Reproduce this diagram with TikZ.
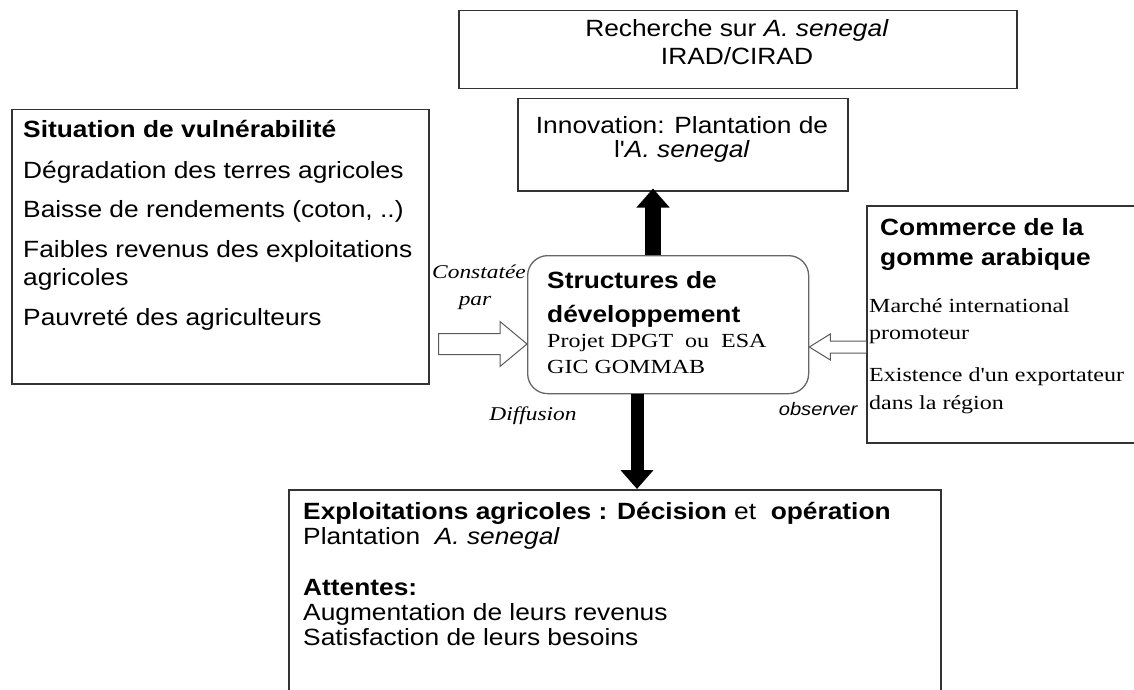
\documentclass[tikz,border=0pt]{standalone}
\usepackage{fontspec}
\setmainfont{Liberation Sans}
\newfontfamily\sansx[FakeStretch=1.12]{Liberation Sans}
\newfontfamily\serifx[FakeStretch=1.2]{Liberation Serif}
\usetikzlibrary{arrows.meta,calc}

\begin{document}
\begin{tikzpicture}[x=1pt,y=-1pt,
  box/.style={draw=black!80, line width=1.5pt, inner sep=0pt, anchor=north west},
  roundbox/.style={draw=black!60, line width=1.3pt, rounded corners=20pt, inner sep=0pt, anchor=north west},
  sans/.style={font=\sansx\fontsize{23.5}{27}\selectfont, inner sep=0pt},
  sansb/.style={font=\sansx\bfseries\fontsize{23.5}{27}\selectfont, inner sep=0pt},
  seri/.style={font=\serifx\fontsize{20}{24}\selectfont, inner sep=0pt},
  lab/.style={font=\serifx\itshape\fontsize{19.5}{23}\selectfont, inner sep=0pt, anchor=base},
  sanslab/.style={font=\sansx\itshape\fontsize{18}{21}\selectfont, inner sep=0pt, anchor=base},
  hollow/.style={draw=black!65, line width=1pt, fill=white, line join=miter},
  solidarrow/.style={draw=black, line width=#1}
]
\useasboundingbox (0,0) rectangle (1134,690);
\clip (0,0) rectangle (1134,690);

% frames
\node[box, minimum width=558pt, minimum height=78pt] (rech) at (458,10) {};
\node[box, minimum width=330pt, minimum height=92pt] (innov) at (517,98) {};
\node[box, minimum width=417pt, minimum height=274pt] (vuln) at (11,109) {};
\node[roundbox, minimum width=281pt, minimum height=138pt] (struct) at (527,255) {};
\node[box, minimum width=290pt, minimum height=237pt] (comm) at (866,205) {};
\node[box, minimum width=652pt, minimum height=240pt] (expl) at (288,489) {};

% research box
\node[sans, anchor=base] (rech1) at (737,37) {Recherche sur \textit{A. senegal}};
\node[sans, anchor=base] (rech2) at (737,65) {IRAD/CIRAD};

% innovation box
\node[sans, anchor=base] (inn1) at (682,133) {Innovation: Plantation de};
\node[sans, anchor=base] (inn2) at (682,157) {l'\textit{A. senegal}};

% vulnerability box
\node[sansb, anchor=base west] (v0) at (23,137) {Situation de vulnérabilité};
\node[sans, anchor=base west] (v1) at (23,178) {Dégradation des terres agricoles};
\node[sans, anchor=base west] (v2) at (23,217) {Baisse de rendements (coton, ..)};
\node[sans, anchor=base west] (v3) at (23,257) {Faibles revenus des exploitations};
\node[sans, anchor=base west] (v4) at (23,285) {agricoles};
\node[sans, anchor=base west] (v5) at (23,325) {Pauvreté des agriculteurs};

% development structures
\node[sansb, anchor=base west] (s1) at (547,288) {Structures de};
\node[sansb, anchor=base west] (s2) at (547,322) {développement};
\node[seri, anchor=base west] (s3) at (547,347) {Projet DPGT\ \ ou\ \ ESA};
\node[seri, anchor=base west] (s4) at (547,373) {GIC GOMMAB};

% gum arabic trade
\node[sansb, anchor=base west] (c1) at (880,235) {Commerce de la};
\node[sansb, anchor=base west] (c2) at (880,265) {gomme arabique};
\node[seri, anchor=base west] (c3) at (869,312) {Marché international};
\node[seri, anchor=base west] (c4) at (869,339) {promoteur};
\node[seri, anchor=base west] (c5) at (869,381) {Existence d'un exportateur};
\node[seri, anchor=base west] (c6) at (869,409) {dans la région};

% farms
\node[sans, anchor=base west] (e1) at (303,519) {\textbf{Exploitations agricoles : Décision} et\ \ \textbf{opération}};
\node[sans, anchor=base west] (e2) at (303,544) {Plantation\ \ \textit{A. senegal}};
\node[sansb, anchor=base west] (e3) at (303,595) {Attentes:};
\node[sans, anchor=base west] (e4) at (303,620) {Augmentation de leurs revenus};
\node[sans, anchor=base west] (e5) at (303,645) {Satisfaction de leurs besoins};

% connector labels
\node[lab] (l1) at (479,278) {Constatée};
\node[lab] (l2) at (475,305) {par};
\node[lab] (l3) at (533,420) {Diffusion};
\node[sanslab] (l4) at (818,415) {observer};

% solid arrows
\coordinate (upx) at (653,0);
\coordinate (dnx) at (637,0);
\draw[solidarrow=16pt, -{Triangle[width=32pt,length=19pt]}]
  (struct.north -| upx) -- ($(innov.south -| upx)+(0,-3)$);
\draw[solidarrow=13pt, -{Triangle[width=32pt,length=19pt]}]
  (struct.south -| dnx) -- (expl.north -| dnx);

% hollow block arrows
\coordinate (ly) at (0,344);
\coordinate (ry) at (0,347);
\draw[hollow]
  ($(vuln.east |- ly)+(9,-10.5)$) -- ($(struct.west |- ly)+(-27,-10.5)$)
  -- ($(struct.west |- ly)+(-27,-22.5)$) -- (struct.west |- ly)
  -- ($(struct.west |- ly)+(-27,22.5)$) -- ($(struct.west |- ly)+(-27,10.5)$)
  -- ($(vuln.east |- ly)+(9,10.5)$) -- cycle;
\draw[hollow]
  ($(comm.west |- ry)+(0,-6)$) -- ($(struct.east |- ry)+(21,-6)$)
  -- ($(struct.east |- ry)+(21,-13)$) -- (struct.east |- ry)
  -- ($(struct.east |- ry)+(21,13)$) -- ($(struct.east |- ry)+(21,6)$)
  -- ($(comm.west |- ry)+(0,6)$);
\end{tikzpicture}
\end{document}
